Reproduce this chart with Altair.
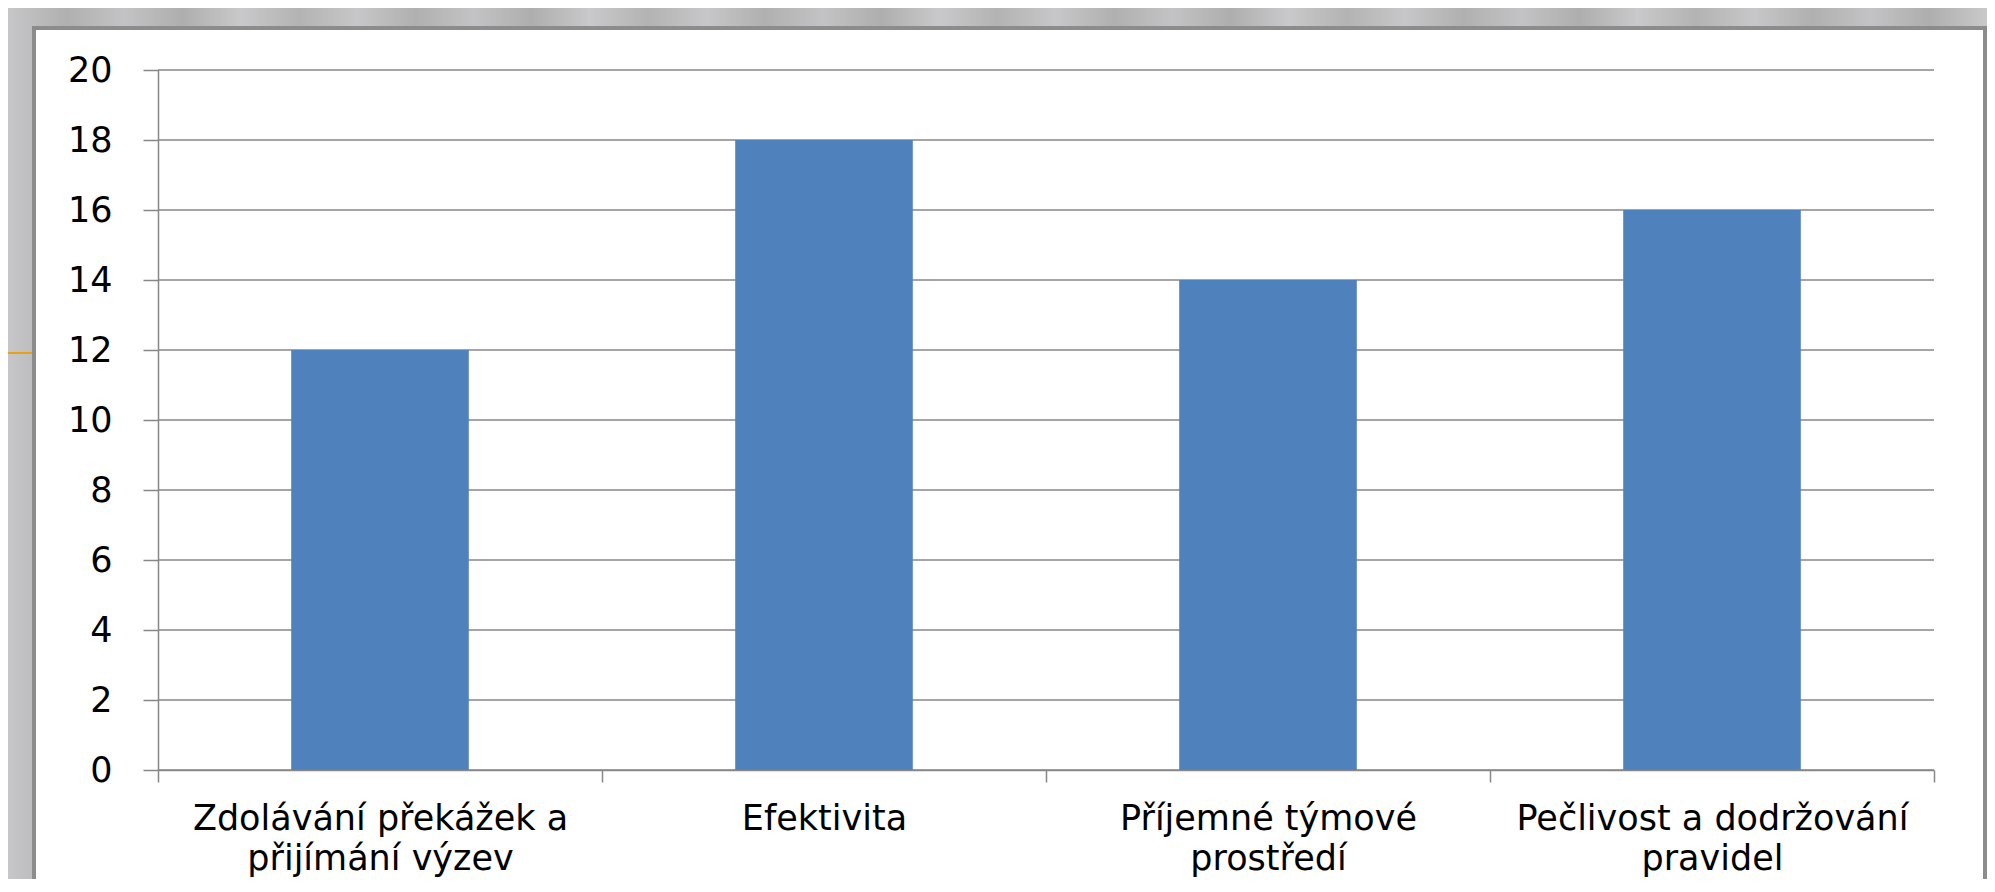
import json
import altair as alt
import pandas as pd

# ---- data ----
categories = [
    "Zdolávání překážek a přijímání výzev",
    "Efektivita",
    "Příjemné týmové prostředí",
    "Pečlivost a dodržování pravidel",
]
values = [12, 18, 14, 16]
label_lines = [
    ["Zdolávání překážek a", "přijímání výzev"],
    ["Efektivita"],
    ["Příjemné týmové", "prostředí"],
    ["Pečlivost a dodržování", "pravidel"],
]
y_ticks = [0, 2, 4, 6, 8, 10, 12, 14, 16, 18, 20]

# ---- layout / style ----
W, H = 1776, 700
PAD = {"left": 150, "top": 62, "right": 53, "bottom": 109}
BOT = H + PAD["bottom"]
GRID = "#878787"
FONT = "DejaVu Sans"
FS = 35

df = pd.DataFrame({"kategorie": categories, "hodnota": values})
grid_df = pd.DataFrame({"hodnota": y_ticks})
one = alt.Data(values=[{"k": 1}])

label_expr = " : ".join(
    f"datum.value === {json.dumps(c, ensure_ascii=False)} ? {json.dumps(l, ensure_ascii=False)}"
    for c, l in zip(categories, label_lines)
) + " : datum.value"

# striped gray slide background
stripe_cols = ["#c7c7c9", "#b0b0b0", "#c3c3c5", "#aeaeae", "#c9c9cb", "#b3b3b3"]
stops = []
n = 34
for i in range(n + 1):
    stops.append(alt.GradientStop(offset=i / n, color=stripe_cols[i % len(stripe_cols)]))
grad = alt.Gradient(gradient="linear", stops=stops, x1=0, x2=1, y1=0, y2=0)

bg = alt.Chart(one).mark_rect(fill=grad).encode(
    x=alt.value(-150), x2=alt.value(1829), y=alt.value(-62), y2=alt.value(BOT)
)
orange = alt.Chart(one).mark_rule(color="#E9A20F", strokeWidth=2).encode(
    x=alt.value(-150), x2=alt.value(1829), y=alt.value(283)
)
white = alt.Chart(one).mark_rect(color="white").encode(
    x=alt.value(-124), x2=alt.value(1827), y=alt.value(-42), y2=alt.value(BOT)
)
border_left = alt.Chart(one).mark_rule(color="#8c8c8c", strokeWidth=4).encode(
    x=alt.value(-124), y=alt.value(-44), y2=alt.value(BOT)
)
border_top = alt.Chart(one).mark_rule(color="#8c8c8c", strokeWidth=4).encode(
    x=alt.value(-126), x2=alt.value(1829), y=alt.value(-42)
)
border_right = alt.Chart(one).mark_rule(color="#8c8c8c", strokeWidth=4).encode(
    x=alt.value(1827), y=alt.value(-44), y2=alt.value(BOT)
)

y_axis = alt.Axis(
    values=y_ticks, title=None, grid=False, tickSize=15, tickColor=GRID, tickWidth=1.5,
    domainColor=GRID, domainWidth=1.5, labelFont=FONT, labelFontSize=FS,
    labelColor="#000000", labelPadding=31, zindex=1,
)
y_enc = alt.Y("hodnota:Q", scale=alt.Scale(domain=[0, 20]), axis=y_axis)

grid = alt.Chart(grid_df).mark_rule(color=GRID, strokeWidth=1.5).encode(y=y_enc)

bars = alt.Chart(df).mark_bar(color="#4F81BD", width=alt.RelativeBandSize(0.4)).encode(
    x=alt.X(
        "kategorie:N",
        sort=categories,
        scale=alt.Scale(paddingInner=0, paddingOuter=0),
        axis=alt.Axis(
            title=None, labelAngle=0, labelExpr=label_expr, tickBand="extent",
            tickSize=12, tickColor=GRID, tickWidth=1.5, domainColor=GRID, domainWidth=1.5,
            labelFont=FONT, labelFontSize=FS, labelColor="#000000", labelPadding=19,
            labelLineHeight=40, labelBaseline="top", labelLimit=800, grid=False, zindex=1,
        ),
    ),
    y=y_enc,
)

chart = alt.layer(bg, orange, white, border_left, border_top, border_right, grid, bars).properties(
    width=W,
    height=H,
    padding=PAD,
    autosize=alt.AutoSizeParams(type="none"),
    background="white",
).configure_view(stroke=None)

chart.save("out.html", embed_options={"renderer": "svg", "actions": False})
